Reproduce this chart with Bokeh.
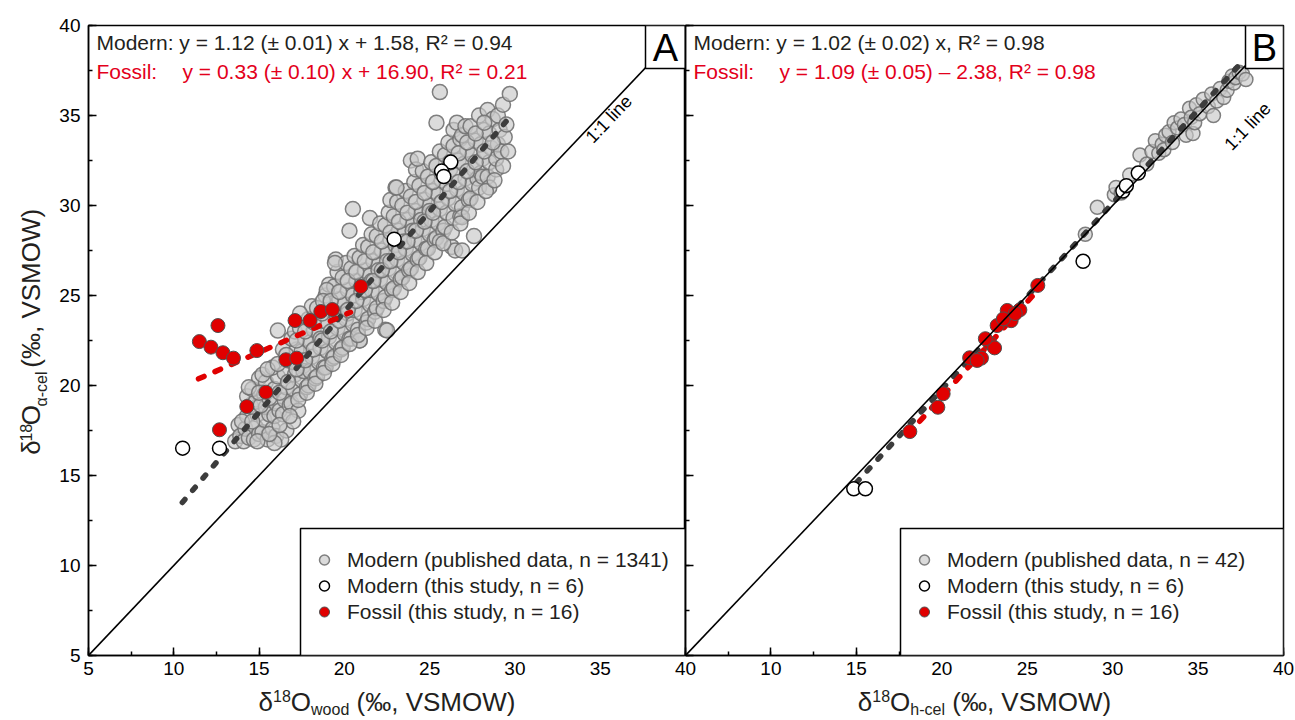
import math
from bokeh.plotting import figure
from bokeh.models import (Range1d, Label, BoxAnnotation, Legend, LegendItem,
                          SingleIntervalTicker)
from bokeh.layouts import row, column
from bokeh.embed import file_html
from bokeh.resources import INLINE

# ---------------- data ----------------
# Panel A: delta18O wood (x) vs delta18O alpha-cellulose (y)
pubA_x = [
    13.6, 13.8, 13.9,
    14.1, 14.2, 14.3, 14.4, 14.5, 14.3,
    14.7, 14.8, 14.9, 14.8, 14.6, 15.0, 15.0,
    15.2, 15.3, 15.4, 15.3, 15.5, 15.4, 15.6, 15.2,
    15.8, 15.9, 16.0, 15.9, 16.1, 15.8, 16.0, 16.2,
    16.4, 16.5, 16.6, 16.5, 16.7, 16.4, 16.8, 16.6,
    16.9, 17.0, 17.1, 17.0, 17.2, 16.9, 17.3, 17.1,
    17.4, 17.5, 17.6, 17.5, 17.7, 17.4, 17.8, 17.6,
    17.9, 18.0, 18.1, 18.0, 18.2, 17.9, 18.3, 18.1,
    18.4, 18.5, 18.6, 18.5, 18.7, 18.4, 18.8, 18.6,
    18.9, 19.0, 19.1, 19.0, 19.2, 18.9, 19.3, 19.1,
    19.4, 19.5, 19.6, 19.5, 19.7, 19.4, 19.8, 19.6, 19.5,
    19.9, 20.0, 20.1, 20.0, 20.2, 19.9, 20.3, 20.1, 20.2,
    20.4, 20.5, 20.6, 20.5, 20.7, 20.4, 20.8, 20.6, 20.5, 20.3,
    20.9, 21.0, 21.1, 21.0, 21.2, 20.9, 21.3, 21.1, 21.0,
    21.4, 21.5, 21.6, 21.5, 21.7, 21.4, 21.8, 21.6, 21.5, 21.6,
    21.9, 22.0, 22.1, 22.0, 22.2, 21.9, 22.3, 22.1, 22.0, 22.4,
    22.4, 22.5, 22.6, 22.5, 22.7, 22.4, 22.8, 22.6, 22.5, 22.7,
    22.9, 23.0, 23.1, 23.0, 23.2, 22.9, 23.3, 23.1, 23.0, 23.2,
    23.4, 23.5, 23.6, 23.5, 23.7, 23.4, 23.8, 23.6, 23.5, 23.9,
    23.9, 24.0, 24.1, 24.0, 24.2, 23.9, 24.3, 24.1, 24.0, 24.2,
    24.4, 24.5, 24.6, 24.5, 24.7, 24.4, 24.8, 24.6, 24.5, 24.3,
    24.9, 25.0, 25.1, 25.0, 25.2, 24.9, 25.3, 25.1, 25.0, 25.4,
    25.4, 25.5, 25.6, 25.5, 25.7, 25.4, 25.8, 25.6, 25.6, 25.6,
    25.9, 26.0, 26.1, 26.0, 26.2, 25.9, 26.3, 26.1, 26.4, 26.5,
    26.4, 26.5, 26.6, 26.5, 26.7, 26.4, 26.8, 26.6, 26.9, 26.8,
    26.9, 27.0, 27.1, 27.0, 27.2, 26.9, 27.3, 27.1,
    27.4, 27.5, 27.6, 27.5, 27.7, 27.4, 27.8, 27.6,
    27.9, 28.0, 28.1, 28.0, 28.2, 27.9, 28.1, 28.4,
    28.4, 28.5, 28.6, 28.5, 28.7, 28.5, 28.9,
    28.9, 29.0, 29.1, 29.0, 29.2, 29.3, 29.7,
    29.4, 29.5, 29.6,
    16.1, 22.5, 20.9, 17.4, 19.45, 18.97, 26.9, 23.06, 17.0, 16.3, 15.9, 18.75,
    14.0, 14.6, 15.1, 15.6, 16.2, 16.7, 17.2, 17.7, 18.2, 18.7,
    19.2, 19.7, 20.2, 20.7, 21.2, 21.7, 22.2, 22.7, 23.2, 23.7,
    24.2, 24.7, 25.2, 25.7, 26.2, 26.7, 27.2, 27.7, 28.2, 28.7,
    14.4, 15.0, 15.5, 16.1, 16.6, 17.2, 17.7, 18.2, 18.7, 19.2,
    19.7, 20.2, 20.7, 21.2, 21.7, 22.2, 22.7, 23.2, 23.7, 24.2,
    24.7, 25.2, 25.7, 26.2, 26.7, 27.2, 27.7, 28.2,
    14.9, 15.6, 16.2, 16.8, 17.3, 17.8, 18.3, 18.8, 19.3, 19.8,
    20.3, 20.8, 21.3, 21.8, 22.3, 22.8, 23.3, 23.8, 24.3, 24.8,
    25.3, 25.8, 26.3, 26.8, 27.3, 27.8, 28.3, 28.8, 29.3,
]
pubA_y = [
    16.9, 17.8, 17.2,
    16.9, 17.6, 18.3, 17.1, 18.9, 19.4,
    17.0, 17.7, 18.4, 19.1, 19.8, 17.3, 20.4,
    17.4, 18.1, 18.8, 19.5, 17.0, 20.2, 18.4, 20.6,
    17.6, 18.3, 19.0, 19.8, 20.5, 21.0, 17.2, 18.6,
    18.4, 19.2, 19.9, 20.7, 21.4, 22.0, 18.9, 17.5,
    19.0, 19.8, 20.6, 21.3, 22.0, 22.6, 18.6, 23.0,
    19.5, 20.3, 21.1, 21.9, 22.6, 23.2, 19.9, 20.8,
    20.0, 20.8, 21.6, 22.4, 23.1, 23.7, 20.4, 24.4,
    20.5, 21.3, 22.1, 22.9, 23.6, 24.3, 21.0, 22.6,
    21.0, 21.9, 22.7, 23.5, 24.2, 25.0, 21.5, 25.6,
    21.6, 22.4, 23.2, 24.0, 24.8, 25.5, 22.0, 26.3, 27.0,
    22.1, 22.9, 23.7, 24.5, 25.3, 26.0, 22.6, 26.8, 24.0,
    22.6, 23.4, 24.2, 25.0, 25.8, 26.5, 23.1, 27.2, 29.8, 28.6,
    22.5, 24.0, 24.8, 25.6, 26.4, 27.1, 23.5, 27.8, 25.2,
    23.7, 24.5, 25.3, 26.1, 26.9, 27.7, 24.1, 28.4, 29.3, 25.8,
    24.3, 25.1, 25.9, 26.7, 27.5, 28.3, 24.7, 29.0, 26.4, 23.1,
    24.9, 25.7, 26.5, 27.3, 28.1, 28.9, 25.3, 29.6, 26.9, 30.3,
    25.4, 26.2, 27.0, 27.8, 28.6, 29.4, 25.9, 30.2, 31.0, 27.5,
    26.0, 26.8, 27.6, 28.4, 29.2, 30.0, 26.4, 30.8, 28.0, 32.5,
    26.5, 27.3, 28.1, 28.9, 29.7, 30.5, 27.0, 31.3, 28.6, 32.0,
    27.1, 27.9, 28.7, 29.5, 30.3, 31.1, 27.6, 31.9, 29.2, 32.6,
    27.6, 28.4, 29.2, 30.0, 30.8, 31.6, 28.1, 32.4, 29.7, 34.6,
    28.2, 29.0, 29.8, 30.6, 31.4, 32.2, 28.6, 33.0, 36.3, 28.0,
    28.8, 29.6, 30.4, 31.2, 32.0, 32.8, 27.7, 33.5, 34.2, 27.5,
    29.3, 30.1, 30.9, 31.7, 32.5, 33.3, 29.4, 34.6, 27.5, 33.7,
    29.9, 30.7, 31.5, 32.3, 33.1, 33.9, 30.3, 34.4,
    30.4, 31.2, 32.0, 32.8, 33.6, 34.4, 31.5, 28.3,
    31.0, 31.8, 32.6, 33.4, 34.2, 35.0, 31.6, 35.3,
    31.6, 32.4, 33.2, 34.0, 34.8, 31.0, 32.0,
    32.6, 33.4, 34.2, 35.0, 33.0, 35.6, 36.2,
    33.8, 34.5, 33.0,
    23.05, 23.06, 22.5, 24.0, 26.8, 25.3, 29.35, 31.0, 18.0, 17.0, 16.8, 24.7,
    18.0, 18.0, 18.9, 19.3, 19.6, 20.2, 20.9, 21.4, 22.0, 22.5,
    23.0, 23.6, 24.2, 24.7, 25.3, 25.8, 26.4, 26.9, 27.4, 28.0,
    28.6, 29.1, 29.6, 30.2, 30.8, 31.3, 31.9, 32.4, 33.0, 33.5,
    19.9, 19.6, 20.9, 21.2, 21.7, 22.5, 23.0, 23.5, 24.0, 24.7,
    25.2, 25.8, 26.3, 26.9, 27.4, 28.0, 28.5, 29.1, 29.6, 30.2,
    30.7, 31.3, 31.8, 32.4, 32.9, 33.5, 34.0, 34.6,
    16.9, 17.3, 17.8, 18.3, 19.2, 19.6, 20.1, 20.7, 21.2, 21.7,
    22.3, 22.8, 23.2, 23.6, 24.2, 24.6, 25.2, 25.7, 26.3, 26.8,
    27.4, 27.9, 28.5, 29.0, 29.6, 30.2, 30.8, 31.4, 32.2,
]
studyA_x = [10.52, 12.68, 22.92, 26.24, 25.70, 25.83]
studyA_y = [16.52, 16.52, 28.13, 32.41, 31.91, 31.61]
fossilA_x = [12.59, 11.50, 12.18, 12.88, 13.50, 14.87, 17.11, 17.99,
             18.62, 19.30, 20.97, 16.57, 17.21, 15.40, 14.28, 12.68]
fossilA_y = [23.33, 22.44, 22.13, 21.82, 21.52, 21.94, 23.61, 23.61,
             24.11, 24.22, 25.50, 21.43, 21.52, 19.63, 18.83, 17.54]
fitA_modern_x = [10.5, 29.6]
fitA_modern_y = [13.5, 34.8]
fitA_fossil_x = [11.45, 20.36]
fitA_fossil_y = [20.37, 24.07]

# Panel B: delta18O h-cel (x) vs delta18O alpha-cel (y)
pubB_x = [28.4, 29.1, 30.1, 30.2, 30.5, 31.0, 31.6, 32.0, 32.3, 32.5,
          32.7, 32.9, 33.0, 33.1, 33.3, 33.5, 33.6, 33.8, 34.0, 34.2,
          34.3, 34.5, 34.6, 34.7, 34.8, 34.9, 35.1, 35.3, 35.6, 35.8,
          35.9, 36.1, 36.3, 36.5, 36.7, 36.8, 37.0, 37.1, 37.2, 37.4,
          37.6, 37.8]
pubB_y = [28.4, 29.9, 30.6, 31.0, 30.7, 31.7, 32.8, 32.3, 33.0, 33.6,
          32.9, 33.4, 33.1, 33.9, 34.1, 33.5, 34.6, 34.3, 34.8, 34.5,
          33.9, 35.4, 34.9, 34.0, 34.6, 35.6, 35.1, 35.9, 35.5, 36.2,
          35.0, 35.8, 36.5, 36.0, 36.4, 36.9, 37.2, 36.8, 37.1, 37.4,
          37.3, 37.0]
studyB_x = [14.85, 15.53, 28.27, 30.6, 30.8, 31.5]
studyB_y = [14.26, 14.26, 26.9, 30.8, 31.1, 31.8]
fossilB_x = [25.62, 23.83, 24.57, 24.06, 23.24, 22.81, 23.09, 21.63,
             22.32, 22.07, 20.08, 19.77, 18.13, 22.55, 23.60, 24.30]
fossilB_y = [25.56, 24.17, 24.20, 23.60, 23.33, 22.35, 22.09, 21.54,
             21.52, 21.39, 19.54, 18.79, 17.44, 22.60, 23.70, 24.00]
fitB_modern_x = [15.0, 37.6]
fitB_modern_y = [14.6, 38.0]
fitB_fossil_x = [18.0, 25.8]
fitB_fossil_y = [17.27, 25.49]

one_to_one = [5, 40]
ticks_interval = 5

eqA_modern = "Modern: y = 1.12 (\u00b1 0.01) x + 1.58, R\u00b2 = 0.94"
eqA_fossil = "y = 0.33 (\u00b1 0.10) x + 16.90, R\u00b2 = 0.21"
eqB_modern = "Modern: y = 1.02 (\u00b1 0.02) x, R\u00b2 = 0.98"
eqB_fossil = "y = 1.09 (\u00b1 0.05) \u2013 2.38, R\u00b2 = 0.98"
legA = ["Modern (published data, n = 1341)", "Modern (this study, n = 6)",
        "Fossil (this study, n = 16)"]
legB = ["Modern (published data, n = 42)", "Modern (this study, n = 6)",
        "Fossil (this study, n = 16)"]

# ---------------- styling / layout ----------------
FONT = "Liberation Sans"
TXT = "#231f20"
RED_TXT = "#e3001b"
RED = "#e00000"
TOP, FRAME_H, BOTTOM = 25, 630, 30
KY = FRAME_H / 35.0
YT_W = 56                      # width of the y-title strip
XT_H = 33                      # height of the x-title strip
FA_LEFT, FA_W = 88, 597        # page px of frame A
FB_LEFT, FB_W = 685, 598       # page px of frame B
KXA, KXB = FA_W / 35.0, FB_W / 35.0
B_LEFT_PAD = 12                # pB canvas overlaps pA by this much
B_RIGHT = 11
MID = 0.358                    # cap-centre offset used for "middle" baselines

CW = {' ': .278, '(': .333, ')': .333, ',': .278, '\u2030': 1.0, 'V': .667,
      'S': .667, 'M': .833, 'O': .778, 'W': .944, '\u03b4': .556, '1': .556,
      '8': .556, 'w': .722, 'o': .556, 'd': .556, 'h': .556, '-': .333,
      'c': .5, 'e': .556, 'l': .222, '\u03b1': .578}


def tw(s, size):
    return sum(CW.get(c, .556) for c in s) * size


def to_x(px, fl, kx):
    return 5 + (px - fl) / kx


def to_y(py):
    return 40 - (py - TOP) / KY


def make_fig(frame_w, left, right, ylabels=True):
    p = figure(width=left + frame_w + right, height=TOP + FRAME_H + BOTTOM,
               x_range=Range1d(5, 40), y_range=Range1d(5, 40),
               output_backend="svg", toolbar_location=None,
               min_border_left=left, min_border_right=right,
               min_border_top=TOP, min_border_bottom=BOTTOM)
    p.xgrid.visible = False
    p.ygrid.visible = False
    p.outline_line_color = "black"
    p.outline_line_width = 1.5
    p.outline_line_alpha = 1.0
    p.background_fill_color = "white"
    p.border_fill_color = "white"
    for ax in (p.xaxis[0], p.yaxis[0]):
        ax.ticker = SingleIntervalTicker(interval=ticks_interval, num_minor_ticks=2)
        ax.axis_line_color = "black"
        ax.axis_line_width = 1.5
        ax.major_tick_in = 8
        ax.major_tick_out = 0
        ax.minor_tick_in = 4
        ax.minor_tick_out = 0
        ax.major_tick_line_color = "black"
        ax.minor_tick_line_color = "black"
        ax.major_tick_line_width = 1.5
        ax.minor_tick_line_width = 1.5
        ax.major_label_text_font = FONT
        ax.major_label_text_font_size = "19px"
        ax.major_label_text_color = "black"
    p.xaxis[0].major_label_standoff = 6
    p.yaxis[0].major_label_standoff = 8
    if not ylabels:
        # panel B shares the y scale of panel A: ticks only, no labels
        p.yaxis[0].major_label_text_font_size = "0px"
        p.yaxis[0].major_label_text_alpha = 0.0
        p.yaxis[0].major_label_text_color = None
        p.yaxis[0].major_label_standoff = 0
    return p


def text_fig(w, h):
    f = figure(width=w, height=h, x_range=Range1d(0, w), y_range=Range1d(0, h),
               x_axis_type=None, y_axis_type=None, output_backend="svg",
               toolbar_location=None, min_border=0)
    f.outline_line_color = None
    f.background_fill_color = "white"
    f.border_fill_color = "white"
    return f


def title_pieces(sub):
    main, small = 26, 16
    # (text, font size, kind, gap before in px)
    return [("\u03b4", main, "m", 0), ("18", small, "sup", 0),
            ("O", main, "m", 0), (sub, small, "sub", 0),
            ("(\u2030, VSMOW)", main, "m", tw(" ", main))]


def add_x_title(f, center_local, sub, strip_top):
    pieces = title_pieces(sub)
    W = sum(tw(s, z) + g for s, z, _, g in pieces)
    base = {"m": 711, "sup": 701, "sub": 715}   # page px baselines
    cur = center_local - W / 2
    for s, z, k, g in pieces:
        cur += g
        mid = base[k] - MID * z
        f.add_layout(Label(x=cur, y=(strip_top + XT_H) - mid, text=s,
                           text_font=FONT, text_font_size=f"{z}px",
                           text_color=TXT, text_align="left",
                           text_baseline="middle"))
        cur += tw(s, z)


def add_y_title(f, sub, height):
    pieces = title_pieces(sub)
    W = sum(tw(s, z) + g for s, z, _, g in pieces)
    base = {"m": 40, "sup": 31.5, "sub": 47}    # page px baselines
    cur = (TOP + FRAME_H / 2) + W / 2            # page py of text start
    for s, z, k, g in pieces:
        cur -= g
        mid = base[k] - MID * z
        f.add_layout(Label(x=mid, y=height - cur, text=s,
                           angle=math.pi / 2,
                           text_font=FONT, text_font_size=f"{z}px",
                           text_color=TXT, text_align="left",
                           text_baseline="middle"))
        cur -= tw(s, z)


def panel(p, fl, kx, pub_x, pub_y, st_x, st_y, fo_x, fo_y,
          fm_x, fm_y, ff_x, ff_y, eq_m, eq_f, leg, letter, letter_left_px,
          label_xy, gsize, msize, box_left):
    r_pub = p.scatter(pub_x, pub_y, marker="circle", size=gsize,
                      fill_color="#c8c8c8", fill_alpha=0.65,
                      line_color="#727272", line_alpha=0.9, line_width=1.5)
    p.line(fm_x, fm_y, line_color="#3c3c3c", line_width=5.5,
           line_dash="4 12", line_cap="round")
    p.line(ff_x, ff_y, line_color=RED, line_width=5.5,
           line_dash="6 12", line_cap="round")
    r_st = p.scatter(st_x, st_y, marker="circle", size=msize,
                     fill_color="white", line_color="black", line_width=1.5)
    r_fo = p.scatter(fo_x, fo_y, marker="circle", size=msize,
                     fill_color=RED, line_color="#505050", line_width=1.0)
    p.line(one_to_one, one_to_one, line_color="black", line_width=1.6)

    # equations
    p.add_layout(Label(x=to_x(fl + 8, fl, kx), y=to_y(42), text=eq_m,
                       text_font=FONT, text_font_size="21px", text_color=TXT,
                       text_baseline="middle"))
    p.add_layout(Label(x=to_x(fl + 8, fl, kx), y=to_y(71), text="Fossil:",
                       text_font=FONT, text_font_size="21px", text_color=RED_TXT,
                       text_baseline="middle"))
    p.add_layout(Label(x=to_x(fl + 94, fl, kx), y=to_y(71), text=eq_f,
                       text_font=FONT, text_font_size="21px", text_color=RED_TXT,
                       text_baseline="middle"))
    # 1:1 line label
    ang = math.atan2(KY, kx)
    p.add_layout(Label(x=label_xy[0], y=label_xy[1], text="1:1 line",
                       angle=ang, text_font=FONT, text_font_size="18px",
                       text_color="black", text_align="center",
                       text_baseline="middle"))
    # panel letter box
    p.add_layout(BoxAnnotation(left=to_x(letter_left_px, fl, kx), right=40,
                               bottom=to_y(68), top=40, fill_color="white",
                               fill_alpha=1.0, line_color="black",
                               line_width=1.5, line_alpha=1.0))
    p.add_layout(Label(x=to_x((letter_left_px + fl + 35 * kx) / 2, fl, kx),
                       y=to_y(47), text=letter, text_font=FONT,
                       text_font_size="38px", text_color="black",
                       text_align="center", text_baseline="middle"))
    # legend box
    p.add_layout(BoxAnnotation(left=to_x(box_left, fl, kx), right=40,
                               bottom=5, top=to_y(528), fill_color="white",
                               fill_alpha=1.0, line_color="black",
                               line_width=1.5, line_alpha=1.0))
    legend = Legend(items=[LegendItem(label=leg[0], renderers=[r_pub]),
                           LegendItem(label=leg[1], renderers=[r_st]),
                           LegendItem(label=leg[2], renderers=[r_fo])],
                    location=(box_left + 6 - fl, 26), margin=0, padding=5,
                    spacing=1, glyph_width=26, glyph_height=25,
                    label_height=22, label_standoff=10,
                    label_text_font=FONT, label_text_font_size="21px",
                    label_text_color=TXT, border_line_alpha=0,
                    background_fill_alpha=0)
    p.add_layout(legend)


pA = make_fig(FA_W, FA_LEFT - YT_W, 0)
pA.xaxis[0].major_label_overrides = {40: ""}
panel(pA, FA_LEFT, KXA, pubA_x, pubA_y, studyA_x, studyA_y, fossilA_x,
      fossilA_y, fitA_modern_x, fitA_modern_y, fitA_fossil_x, fitA_fossil_y,
      eqA_modern, eqA_fossil, legA, "A", 645, (35.5, 34.8), 15, 14, 300)

# pB's canvas starts B_LEFT_PAD px inside pA (negative margin) so that the
# shared "40" tick label can sit centred on the common frame edge.
pB = make_fig(FB_W, B_LEFT_PAD, B_RIGHT, ylabels=False)
pB.border_fill_alpha = 0.0
pB.margin = (0, 0, 0, -B_LEFT_PAD)
pB.xaxis[0].major_label_overrides = {5: "40"}
panel(pB, FB_LEFT, KXB, pubB_x, pubB_y, studyB_x, studyB_y, fossilB_x,
      fossilB_y, fitB_modern_x, fitB_modern_y, fitB_fossil_x, fitB_fossil_y,
      eqB_modern, eqB_fossil, legB, "B", 1245, (37.9, 34.4), 14, 14, 900)

plot_h = TOP + FRAME_H + BOTTOM
yfig = text_fig(YT_W, plot_h)
add_y_title(yfig, "\u03b1-cel", plot_h)

xfigA = text_fig(FA_LEFT + FA_W, XT_H)
add_x_title(xfigA, FA_LEFT + FA_W / 2, "wood", plot_h)
xfigB = text_fig(FB_W + B_RIGHT, XT_H)
add_x_title(xfigB, FB_W / 2, "h-cel", plot_h)

layout = column(row(yfig, pA, pB, spacing=0), row(xfigA, xfigB, spacing=0),
                spacing=0)
open("out.html", "w").write(file_html(layout, INLINE))
